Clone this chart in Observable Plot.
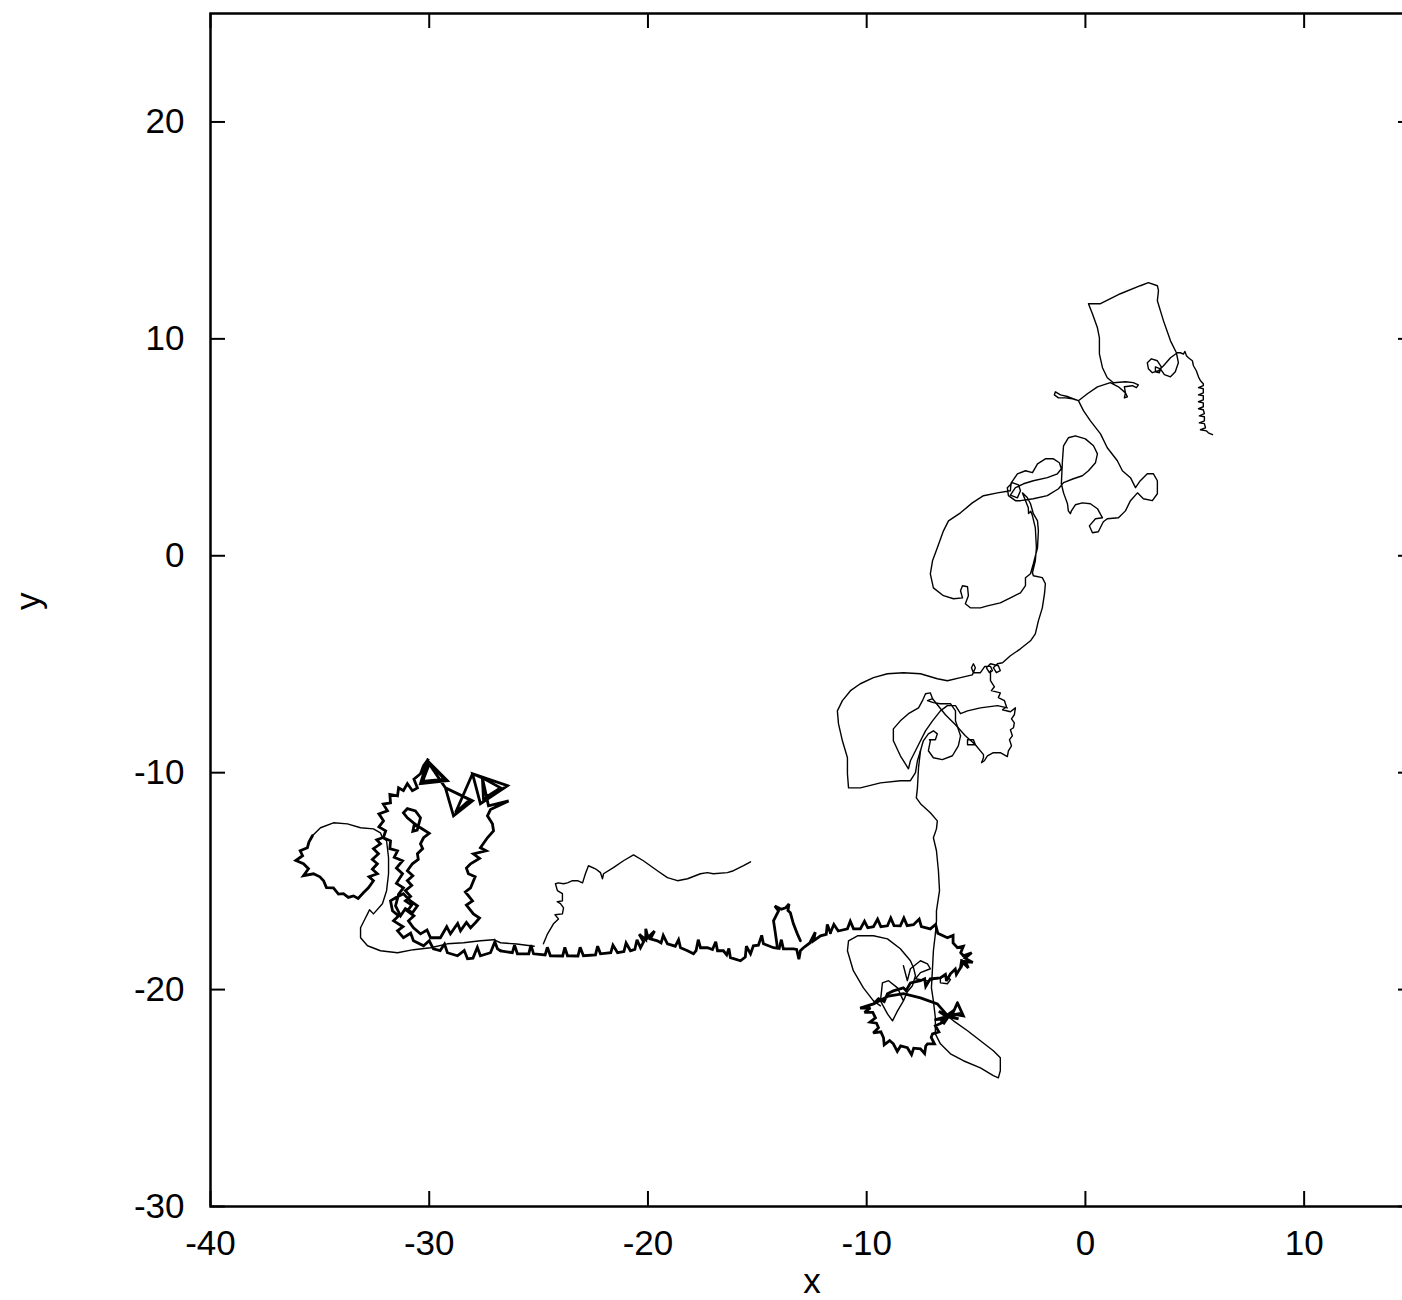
<!DOCTYPE html>
<html>
<head>
<meta charset="utf-8">
<script src="https://cdn.jsdelivr.net/npm/d3@7"></script>
<script src="https://cdn.jsdelivr.net/npm/@observablehq/plot@0.6"></script>
<style>
  html, body { margin: 0; padding: 0; background: #fff; overflow: hidden; }
  #chart svg { max-width: none !important; overflow: visible; }
</style>
</head>
<body>
<div id="chart"></div>
<script>
// Axis setup
const xTicks = [-40, -30, -20, -10, 0, 10];
const yTicks = [-30, -20, -10, 0, 10, 20];
const xDomain = [-40, 15];
const yDomain = [-30, 25];

// Trajectory pieces, each a list of [x, y] positions along the walk.
// Smooth, lightly drawn stretches of the walk.
const northTrack = [
  [5.81,5.58],[5.62,5.67],[5.53,5.76],[5.26,5.81],[5.49,5.90],[5.44,6.09],[5.21,6.13],[5.44,6.22],
  [5.44,6.41],[5.21,6.45],[5.44,6.55],[5.39,6.73],[5.17,6.78],[5.39,6.87],[5.39,7.05],[5.17,7.10],
  [5.39,7.19],[5.39,7.38],[5.17,7.42],[5.39,7.51],[5.39,7.70],[5.17,7.75],[5.39,7.84],[5.39,7.93],
  [5.26,8.07],[5.17,8.25],[5.07,8.53],[4.94,8.76],[4.89,8.99],[4.71,9.13],[4.62,9.22],[4.55,9.42],
  [4.48,9.30],[4.34,9.36],[4.20,9.36],
  [3.89,9.13],[3.57,8.76],[3.34,8.53],[3.06,8.44],[2.88,8.62],[2.83,8.90],[3.02,9.08],[3.29,8.99],
  [3.47,8.71],[3.38,8.44],[3.20,8.48],[3.20,8.71],[3.43,8.62],[3.61,8.35],[3.89,8.25],[4.11,8.48],
  [4.25,8.90],[4.16,9.36],
  [3.89,9.91],[3.57,10.83],[3.29,11.76],[3.34,12.22],[3.29,12.45],[2.88,12.59],[2.51,12.45],[1.60,12.08],
  [0.69,11.62],[0.14,11.62],[0.32,11.16],[0.55,10.51],[0.64,10.05],[0.64,9.31],[0.78,8.67],[1.00,8.21],
  [1.28,7.98],[1.83,8.02],[2.19,7.98],[2.42,7.88],[2.33,7.75],[2.15,7.84],[1.78,7.79],[1.83,7.51],
  [1.92,7.33],[1.78,7.28],[1.83,7.51],[1.51,7.79],[1.14,7.98],[0.55,7.79],[0.09,7.47],[-0.32,7.15],
  [-0.59,7.24],[-0.91,7.28],[-1.23,7.28],[-1.42,7.42],[-1.37,7.56],[-1.14,7.42],[-0.78,7.33],[-0.32,7.15],
  [-0.09,6.69],[0.23,6.22],[0.69,5.62],[1.00,4.98],[1.46,4.38],[1.69,3.92],[2.06,3.60],[2.29,3.14],
  [2.51,3.46],[2.83,3.78],[3.11,3.78],[3.29,3.46],[3.29,2.86],[3.06,2.54],[2.65,2.63],[2.38,2.90],
  [2.06,2.54],[1.83,2.07],[1.51,1.75],[1.00,1.71],[0.82,1.57],[0.59,1.11],[0.32,1.06],[0.18,1.38],
  [0.46,1.71],[0.78,1.75],[0.55,2.17],[0.23,2.40],[-0.14,2.44],[-0.46,2.35],[-0.64,2.07],[-0.69,1.94],
  [-0.78,2.07],[-0.82,2.40],[-1.00,2.90],[-1.10,3.32],[-1.05,4.38],[-1.00,5.07],[-0.78,5.44],[-0.46,5.53],
  [0.00,5.39],[0.37,5.07],[0.55,4.70],[0.46,4.29],[0.14,3.92],[-0.14,3.69],[-0.55,3.55],[-1.00,3.37],
  [-1.23,3.09],[-1.74,2.77],[-2.38,2.63],[-2.97,2.54],[-3.20,2.54],[-3.52,2.77],[-3.57,3.14],[-3.34,3.37],
  [-3.06,3.27],[-2.97,3.00],[-3.11,2.67],[-3.43,2.80],[-3.20,3.14],[-2.83,3.32],[-2.38,3.46],[-1.74,3.60],
  [-1.28,3.78],[-1.10,4.01],[-1.19,4.29],[-1.46,4.47],[-1.83,4.47],[-2.19,4.24],[-2.42,3.83],[-2.74,3.92],
  [-3.11,3.78],[-3.40,3.35],[-3.43,3.00],
  [-4.02,2.90],[-4.66,2.77],[-5.17,2.44],[-5.71,1.98],[-6.26,1.61],[-6.49,1.15],[-6.77,0.37],[-6.99,-0.23],
  [-7.09,-0.83],[-6.95,-1.48],[-6.49,-1.84],[-6.03,-1.98],[-5.62,-1.94],[-5.71,-1.61],[-5.62,-1.38],[-5.39,-1.43],
  [-5.35,-1.84],[-5.49,-2.21],[-5.26,-2.40],[-4.80,-2.40],[-4.48,-2.31],[-3.89,-2.17],[-3.43,-1.94],[-2.97,-1.71],
  [-2.74,-1.38],[-2.74,-1.01],[-2.51,-0.83],[-2.38,-0.37],[-2.19,0.37],[-2.15,1.15],[-2.19,1.61],[-2.38,1.94],
  [-2.51,2.40],[-2.65,2.67],[-2.88,2.90],[-2.61,2.21],[-2.60,1.95],[-2.50,2.05],[-2.42,1.84],[-2.29,1.29],
  [-2.24,0.37],[-2.29,-0.23],[-2.42,-0.78],[-2.38,-0.92],[-1.97,-1.01],[-1.83,-1.29],[-1.87,-1.75],[-1.97,-2.40],
  [-2.15,-3.00],[-2.29,-3.60],[-2.51,-3.92],[-2.97,-4.29],[-3.43,-4.61],[-3.79,-4.93],
  [-4.02,-4.98],[-4.21,-5.16],[-4.07,-5.39],[-3.89,-5.30],[-3.98,-5.07],[-4.34,-4.98],[-4.53,-5.16],[-4.39,-5.39],
  [-4.25,-5.30],[-4.34,-5.10],[-4.60,-5.10],[-4.80,-5.39],[-5.12,-5.39],[-5.21,-5.16],[-5.12,-4.98],[-5.03,-5.16],
  [-5.17,-5.49],[-5.71,-5.62],[-6.31,-5.76],[-6.77,-5.67],[-7.54,-5.44],[-8.32,-5.39],[-9.05,-5.44],[-9.69,-5.62],
  [-10.29,-5.90],[-10.74,-6.22],[-11.11,-6.68],[-11.34,-7.15],[-11.29,-7.74],[-11.11,-8.53],[-10.88,-9.31],[-10.88,-10.05],
  [-10.83,-10.70],[-10.29,-10.70],[-9.37,-10.47],[-8.46,-10.37],[-8.00,-10.37],[-7.77,-10.00],[-7.68,-9.45],[-7.54,-8.99],
  [-7.41,-8.53],[-7.18,-8.21],[-6.95,-8.07],[-6.77,-8.21],[-6.86,-8.48],[-7.13,-8.48],[-7.09,-8.53],[-7.18,-8.99],
  [-6.95,-9.31],[-6.54,-9.40],[-6.08,-9.22],[-5.81,-8.76],[-5.71,-8.30]
];

const lobeTrack = [
  [-5.71,-8.30],[-5.94,-7.61],[-5.94,-7.15],[-6.17,-6.82],[-6.63,-6.82],[-6.95,-6.77],[-7.22,-6.68],[-6.99,-6.59],
  [-7.09,-6.32],[-7.31,-6.36],[-7.45,-6.68],[-7.63,-7.01],[-8.09,-7.28],[-8.46,-7.61],[-8.78,-7.98],[-8.78,-8.53],
  [-8.46,-9.22],[-8.09,-9.82],[-8.00,-9.45],[-7.77,-8.99],[-7.54,-8.53],[-7.31,-8.07],[-6.99,-7.61],[-6.63,-7.15],
  [-6.31,-6.91],[-5.94,-6.91],[-5.71,-7.28],[-5.39,-7.15],[-4.80,-7.01],[-4.02,-6.91],[-3.57,-7.01]
];

const jagTrack = [
  [-4.34,-5.30],[-4.34,-5.76],[-4.16,-6.04],[-4.30,-6.22],[-3.89,-6.32],[-3.98,-6.54],[-3.70,-6.68],[-3.61,-6.96],
  [-3.79,-7.10],[-3.43,-7.19],[-3.20,-7.01],[-3.25,-7.33],[-3.38,-7.52],[-3.25,-7.70],[-3.29,-7.93],[-3.43,-8.02],
  [-3.34,-8.30],[-3.47,-8.48],[-3.38,-8.76],[-3.52,-8.99],[-3.57,-9.26],[-3.89,-9.08],[-4.21,-9.08],[-4.48,-9.22],
  [-4.62,-9.45],[-4.75,-9.54],[-4.66,-9.31],[-4.66,-9.17],[-5.03,-8.71],[-5.12,-8.48],[-5.39,-8.48],[-5.39,-8.71],
  [-5.03,-8.71],[-5.49,-8.30],[-5.94,-7.79],[-6.40,-7.33],[-6.99,-6.59]
];

const descentTrack = [
  [-7.54,-8.99],[-7.63,-9.77],[-7.68,-10.70],[-7.73,-11.16],[-7.54,-11.43],[-7.09,-11.85],[-6.77,-12.22],[-6.81,-12.59],
  [-6.95,-13.00],[-6.81,-13.60],[-6.72,-14.52],[-6.67,-15.44],[-6.81,-16.37],[-6.81,-16.83],[-6.86,-17.43],[-6.95,-18.21],
  [-6.99,-18.99],[-7.04,-19.92],[-6.95,-20.52],[-6.86,-21.30],[-6.86,-22.04],[-6.63,-22.50],[-6.17,-22.96],[-5.58,-23.28],
  [-4.80,-23.61],[-4.21,-23.97],[-3.98,-24.07],[-3.89,-23.74],[-3.89,-23.14],[-4.21,-22.82],[-4.80,-22.36],[-5.39,-21.90],
  [-6.03,-21.44],[-6.31,-21.21]
];

const clusterThin = [
  [-9.37,-20.75],[-9.69,-20.52],[-10.15,-19.92],[-10.61,-19.13],[-10.88,-18.21],[-10.83,-17.75],[-10.42,-17.52],[-9.69,-17.52],
  [-9.05,-17.66],[-8.46,-18.12],[-8.00,-18.67],[-7.86,-18.99],[-7.77,-19.36],[-7.91,-19.82],[-8.14,-20.10],[-8.32,-20.52],
  [-8.59,-20.98],[-8.82,-21.44],[-9.05,-21.12],[-9.37,-20.52],[-9.28,-19.69],[-9.00,-19.59],[-8.59,-19.92],[-8.32,-20.52]
];

const clusterZigzag = [
  [-8.32,-18.90],[-8.14,-19.59],[-8.00,-19.04],[-7.54,-18.67],[-7.22,-18.81],[-7.09,-19.04],[-7.54,-19.22],[-7.77,-19.50],
  [-7.20,-19.60],[-6.63,-19.46],[-6.40,-19.36],[-6.17,-19.54],[-6.31,-19.73],[-6.63,-19.69],[-6.63,-19.46]
];

const midThin = [
  [-24.78,-17.89],[-24.59,-17.43],[-24.32,-16.97],[-24.09,-16.74],[-24.25,-16.55],[-23.91,-16.51],[-23.86,-16.23],[-24.00,-16.04],
  [-24.15,-15.95],[-23.91,-15.91],[-23.91,-15.58],[-24.14,-15.44],[-24.23,-15.12],[-24.09,-15.08],[-23.86,-15.12],[-23.68,-15.08],
  [-23.45,-14.98],[-23.22,-14.98],[-22.99,-15.08],[-22.86,-14.66],[-22.72,-14.29],[-22.40,-14.43],[-22.17,-14.61],[-22.08,-14.89],
  [-22.03,-14.66],[-21.58,-14.38],[-21.12,-14.06],[-20.66,-13.79],[-20.21,-14.06],[-19.57,-14.52],[-19.11,-14.84],[-18.65,-14.98],
  [-18.19,-14.89],[-17.60,-14.66],[-17.28,-14.61],[-17.01,-14.66],[-16.37,-14.61],[-16.09,-14.52],[-15.63,-14.29],[-15.31,-14.11]
];

const leftThin = [
  [-32.14,-13.00],[-32.23,-12.77],[-32.55,-12.59],[-33.14,-12.54],[-33.74,-12.36],[-34.38,-12.31],[-34.97,-12.54],[-35.34,-12.91]
];

const leftDescent = [
  [-32.14,-13.00],[-31.95,-13.14],[-31.86,-13.92],[-31.86,-14.66],[-31.95,-15.44],[-32.14,-16.04],[-32.55,-16.51],[-32.73,-16.32],
  [-32.82,-16.51],[-32.91,-16.69],[-33.14,-17.15],[-33.14,-17.61],[-32.82,-17.98],[-32.23,-18.21],[-31.45,-18.30],[-30.72,-18.16],
  [-29.94,-18.07],[-29.17,-17.89],[-28.43,-17.84],[-27.66,-17.75],[-27.06,-17.70],[-26.74,-17.84],[-26.00,-17.90],[-25.20,-18.00]
];

// Jittery, heavily retraced stretches of the walk.
const clusterBold = [
  [-11.66,-17.38],[-11.50,-17.00],[-11.30,-17.30],[-10.88,-17.20],[-10.75,-16.85],[-10.60,-17.20],[-10.29,-17.20],[-10.10,-16.85],
  [-9.95,-17.15],[-9.69,-17.10],[-9.50,-16.75],[-9.35,-17.10],[-9.05,-17.06],[-8.90,-16.70],[-8.75,-17.05],[-8.46,-17.06],
  [-8.30,-16.70],[-8.15,-17.05],[-7.86,-17.01],[-7.60,-16.75],[-7.50,-17.10],[-7.09,-17.20],[-6.85,-17.00],[-6.75,-17.40],
  [-6.31,-17.61],[-6.05,-17.50],[-6.05,-17.85],[-5.85,-18.07],[-5.58,-18.00],[-5.70,-18.30],[-5.58,-18.44],
  [-5.20,-18.30],[-5.50,-18.55],[-5.15,-18.75],[-5.50,-18.70],[-5.35,-19.00],[-5.60,-18.75],[-5.70,-19.00],[-5.65,-18.60],
  [-5.71,-18.99],[-5.90,-19.30],[-5.95,-19.05],[-6.17,-19.27],[-6.35,-19.60],[-6.40,-19.30],[-6.63,-19.46],[-7.09,-19.50],
  [-7.30,-19.85],[-7.35,-19.50],[-7.54,-19.59],[-8.00,-19.69],[-8.20,-20.05],[-8.32,-19.92],[-8.78,-20.06],[-9.05,-20.19],
  [-9.20,-20.55],[-9.46,-20.42],[-9.69,-20.66],[-10.30,-20.85],[-9.83,-20.84],
  [-10.10,-21.05],[-9.72,-21.05],[-9.60,-21.30],[-9.85,-21.50],[-9.55,-21.55],[-9.46,-21.76],[-9.70,-22.00],[-9.35,-21.95],
  [-9.23,-22.22],[-9.20,-22.55],[-8.95,-22.35],[-8.78,-22.50],[-8.60,-22.85],[-8.45,-22.60],[-8.14,-22.68],[-7.95,-23.00],
  [-7.85,-22.70],[-7.54,-22.73],[-7.35,-22.95],[-7.30,-22.60],[-7.22,-22.50],[-6.90,-22.50],[-7.05,-22.20],[-6.99,-22.04],
  [-6.70,-21.95],[-6.86,-21.67],[-6.60,-21.55],[-6.49,-21.30],[-6.31,-21.21],
  [-5.70,-21.10],[-6.30,-21.25],[-5.80,-21.35],[-6.30,-21.20],[-6.00,-20.95],[-6.35,-21.20],[-6.70,-21.00],[-6.35,-21.25],
  [-6.90,-21.40],[-6.30,-21.30],[-6.50,-21.60],[-6.30,-21.20],
  [-6.77,-20.66],[-7.54,-20.38],[-8.32,-20.19],[-9.00,-20.30],[-9.40,-20.50],[-9.69,-20.66]
];

const starTriangle = [
  [-5.85,-20.61],[-5.58,-21.21],[-6.08,-21.12],[-5.85,-20.61]
];

const bumpLoop = [
  [-14.08,-18.07],[-14.17,-17.43],[-14.26,-16.83],[-14.03,-16.37],[-14.20,-16.15],[-13.90,-16.30],[-13.71,-16.23],[-13.55,-16.05],
  [-13.60,-16.35],[-13.49,-16.46],[-13.35,-16.97],[-13.17,-17.43],[-13.03,-17.75]
];

const bandTrack = [
  [-11.66,-17.38],[-11.80,-17.00],[-11.85,-17.45],[-12.11,-17.52],[-12.43,-17.75],[-12.35,-17.35],[-12.60,-17.85],[-12.89,-18.07],
  [-13.03,-18.21],[-13.10,-18.60],[-13.20,-18.15],[-13.35,-18.12],[-13.81,-18.12],[-13.90,-17.70],[-14.00,-18.10],[-14.26,-18.07],
  [-14.72,-17.89],[-14.80,-17.50],[-14.95,-17.95],[-15.18,-17.98],[-15.31,-18.35],[-15.50,-18.00],[-15.55,-18.50],[-15.77,-18.67],
  [-16.23,-18.53],[-16.30,-18.10],[-16.40,-18.40],[-16.55,-18.21],[-16.82,-18.21],[-16.90,-17.80],[-17.05,-18.15],[-17.28,-18.07],
  [-17.60,-18.07],[-17.70,-17.70],[-17.80,-18.20],[-17.92,-18.35],[-18.19,-18.21],[-18.51,-18.07],[-18.60,-17.70],[-18.75,-18.00],
  [-19.11,-17.89],[-19.30,-17.50],[-19.40,-17.85],[-19.57,-17.75],[-19.89,-17.66],[-19.70,-17.30],[-20.00,-17.60],[-20.10,-17.20],
  [-20.10,-17.70],[-20.40,-17.45],[-20.20,-17.80],[-20.34,-18.07],[-20.50,-17.70],[-20.60,-18.15],[-20.80,-18.21],[-21.00,-17.85],
  [-21.10,-18.25],[-21.39,-18.30],[-21.60,-17.95],[-21.70,-18.30],[-22.17,-18.35],[-22.30,-18.00],[-22.40,-18.40],[-22.95,-18.44],
  [-23.10,-18.05],[-23.20,-18.45],[-23.68,-18.44],[-23.80,-18.05],[-23.90,-18.45],[-24.46,-18.44],[-24.60,-18.05],[-24.70,-18.40],
  [-25.23,-18.35],[-25.35,-17.95],[-25.45,-18.35],[-25.97,-18.35],[-26.10,-17.95],[-26.20,-18.30],[-26.74,-18.21]
];

const cShape = [
  [-26.74,-18.21],[-26.88,-18.12],[-27.00,-17.80],[-27.20,-18.30],[-27.66,-18.44],[-27.80,-18.05],[-28.00,-18.55],[-28.25,-18.58],
  [-28.40,-18.20],[-28.71,-18.44],[-29.17,-18.30],[-29.30,-17.90],[-29.50,-18.20],[-29.81,-18.12],[-30.00,-17.75],[-30.26,-17.98],
  [-30.72,-17.75],[-30.85,-17.40],[-31.18,-17.61],[-31.45,-17.29],[-31.20,-17.10],[-31.63,-16.83],[-31.40,-16.60],[-31.68,-16.37],
  [-31.77,-15.91],[-31.54,-15.77],[-31.18,-15.58],[-30.86,-15.91],[-30.54,-16.14],[-30.77,-16.46],[-31.09,-16.27],[-31.31,-16.60],
  [-31.54,-16.14],[-31.40,-15.60],[-31.18,-15.31],[-31.50,-15.10],[-31.22,-14.66],[-31.50,-14.40],[-31.22,-14.06],[-31.60,-13.90],
  [-31.45,-13.60],[-31.80,-13.50],[-31.77,-13.14],[-32.10,-13.00],[-31.99,-12.68],[-32.30,-12.50],[-32.09,-12.22],[-32.30,-11.90],
  [-31.91,-11.76],[-32.10,-11.45],[-31.77,-11.39],[-31.80,-11.00],[-31.45,-11.07],[-31.40,-10.70],[-31.18,-10.83],[-31.00,-10.50],
  [-30.77,-10.83],[-30.54,-10.70],[-30.70,-10.30],[-30.40,-10.05],[-30.26,-9.68],[-30.03,-9.36],
  [-30.08,-9.45],[-29.17,-10.37],[-30.40,-10.51],[-30.08,-9.45],[-29.30,-10.30],[-30.30,-10.40],[-30.00,-9.60],[-29.26,-10.70],
  [-28.02,-11.30],[-28.89,-11.99],[-29.26,-10.70],[-28.15,-11.25],[-28.80,-11.85],[-28.02,-10.05],[-26.42,-10.60],[-27.66,-11.43],
  [-28.02,-10.05],[-27.57,-10.24],[-26.74,-10.70],[-27.52,-11.20],[-27.57,-10.24],[-27.29,-11.53],[-26.37,-11.30],[-27.20,-11.70],
  [-27.34,-11.99],[-27.11,-12.36],[-27.06,-12.68],[-27.34,-13.00],[-27.66,-13.46],[-27.40,-13.60],[-27.98,-13.74],[-27.70,-13.95],
  [-28.11,-14.20],[-28.30,-14.40],[-28.21,-14.66],[-27.90,-14.80],[-28.11,-15.31],[-28.35,-15.50],[-28.02,-15.91],[-28.30,-16.10],
  [-27.98,-16.51],[-27.70,-16.70],[-27.89,-16.92],[-28.11,-17.15],[-28.30,-16.90],[-28.57,-17.29],[-28.70,-16.95],[-29.03,-17.43],
  [-29.20,-17.10],[-29.49,-17.61],[-29.94,-17.61],[-30.10,-17.25],[-30.40,-17.43],[-30.72,-17.15],[-30.95,-16.83],[-30.70,-16.60],
  [-31.00,-16.37],[-30.80,-16.10],[-31.09,-15.91],[-30.85,-15.70],[-31.09,-15.44],[-30.80,-15.20],[-31.00,-14.98],[-30.75,-14.75],
  [-31.00,-14.52],[-30.77,-14.20],[-30.50,-14.00],[-30.54,-13.74],[-30.30,-13.50],[-30.40,-13.28],[-30.26,-13.00],[-30.00,-12.80],
  [-30.40,-12.54],[-30.72,-12.31],[-31.00,-12.08],[-31.18,-11.85],[-31.00,-11.66],[-30.63,-11.76],[-30.40,-12.08],[-30.55,-12.65],
  [-30.75,-12.70],[-30.70,-12.45],[-30.50,-12.45]
];

const leftLoopBold = [
  [-35.34,-12.91],[-35.50,-13.20],[-35.57,-13.46],[-35.90,-13.60],[-35.79,-13.83],[-36.10,-14.05],[-35.75,-14.20],[-35.52,-14.43],
  [-35.75,-14.75],[-35.29,-14.66],[-35.00,-14.80],[-34.83,-14.98],[-34.70,-15.30],[-34.38,-15.31],[-34.15,-15.60],[-33.92,-15.58],
  [-33.70,-15.75],[-33.46,-15.68],[-33.25,-15.80],[-33.01,-15.54],[-32.78,-15.31],[-32.55,-14.98],[-32.75,-14.80],[-32.37,-14.66],
  [-32.60,-14.45],[-32.37,-14.20],[-32.60,-14.00],[-32.32,-13.74],[-32.55,-13.50],[-32.23,-13.28],[-32.40,-13.10],[-32.14,-13.00]
];

const thinTracks = [northTrack, lobeTrack, jagTrack, descentTrack, clusterThin, clusterZigzag, midThin, leftThin, leftDescent];
const boldTracks = [clusterBold, starTriangle, bumpLoop, bandTrack, cShape, leftLoopBold];

// Flatten a list of tracks into rows with a track id for the z channel.
function toRows(tracks) {
  return tracks.flatMap((track, i) => track.map(([x, y]) => ({x, y, track: i})));
}

// Layout in pixels; the right edge of the frame sits just past the page edge.
const W = 1415, H = 1300;
const mL = 210, mR = 2, mT = 13, mB = 94;
const tickLen = 15;
const xPerPx = (xDomain[1] - xDomain[0]) / (W - mL - mR);
const yPerPx = (yDomain[1] - yDomain[0]) / (H - mT - mB);
const font = "'Liberation Sans', Arial, Helvetica, sans-serif";

const chart = Plot.plot({
  width: W,
  height: H,
  marginLeft: mL,
  marginRight: mR,
  marginTop: mT,
  marginBottom: mB,
  x: {domain: xDomain},
  y: {domain: yDomain},
  style: {fontFamily: font, fontSize: "35px", background: "#fff", color: "#000"},
  marks: [
    Plot.line(toRows(thinTracks), {x: "x", y: "y", z: "track", stroke: "#000", strokeWidth: 1.4, strokeLinejoin: "round"}),
    Plot.line(toRows(boldTracks), {x: "x", y: "y", z: "track", stroke: "#000", strokeWidth: 2.8, strokeLinejoin: "miter", strokeMiterlimit: 3}),
    // gnuplot-style inward ticks, mirrored on all four sides
    Plot.ruleX(xTicks, {x: d => d, y1: yDomain[0], y2: yDomain[0] + tickLen * yPerPx, stroke: "#000", strokeWidth: 2}),
    Plot.ruleX(xTicks, {x: d => d, y1: yDomain[1], y2: yDomain[1] - tickLen * yPerPx, stroke: "#000", strokeWidth: 2}),
    Plot.ruleY(yTicks, {y: d => d, x1: xDomain[0], x2: xDomain[0] + tickLen * xPerPx, stroke: "#000", strokeWidth: 2}),
    Plot.ruleY(yTicks, {y: d => d, x1: xDomain[1], x2: xDomain[1] - tickLen * xPerPx, stroke: "#000", strokeWidth: 2}),
    Plot.frame({stroke: "#000", strokeWidth: 2.5}),
    Plot.axisX(xTicks, {tickSize: 0, tickPadding: 24, fontSize: 35, label: null, tickFormat: d => String(d)}),
    Plot.axisY(yTicks, {tickSize: 0, tickPadding: 26, fontSize: 35, label: null, tickFormat: d => String(d)}),
    Plot.text(["x"], {frameAnchor: "bottom", dy: 75, fontSize: 35, lineAnchor: "middle"}),
    Plot.text(["y"], {frameAnchor: "left", dx: -182, rotate: -90, fontSize: 35, lineAnchor: "middle"})
  ]
});

chart.style.maxWidth = "none";
chart.style.overflow = "visible";
document.getElementById("chart").appendChild(chart);
</script>
</body>
</html>
